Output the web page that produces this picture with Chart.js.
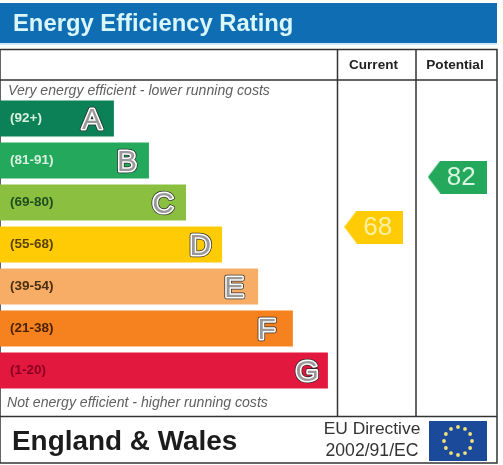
<!DOCTYPE html>
<html>
<head>
<meta charset="utf-8">
<title>Energy Efficiency Rating</title>
<script src="https://cdn.jsdelivr.net/npm/chart.js@4"></script>
<style>
  html, body { margin: 0; padding: 0; background: #fff; overflow: hidden; }
  canvas { display: block; }
</style>
</head>
<body>
<canvas id="epc" width="503" height="465"></canvas>
<script>
// data
const bandLetters = ['A', 'B', 'C', 'D', 'E', 'F', 'G'];
const bandRanges = ['(92+)', '(81-91)', '(69-80)', '(55-68)', '(39-54)', '(21-38)', '(1-20)'];
const bandLengths = [33.8, 44.2, 55.2, 65.9, 76.6, 86.9, 97.3]; // % of the first column
const bandColors = ['#0c8158', '#23a85c', '#8bbf3f', '#ffcb05', '#f8ad66', '#f5821f', '#e2183f'];
const rangeColors = ['#d8f0e0', '#d8f0e0', '#1d4d20', '#5a4300', '#4a2e10', '#4a2208', '#8a0022'];
const letterInset = [12, 12, 12, 11, 14, 17, 9];
const columnTitles = ['Current', 'Potential'];
const ratings = [68, 82];
const ratingColors = ['#ffcb05', '#23a85c'];
const ratingTextColors = ['#fff0a0', '#d8f5e0'];
const ratingColumns = [110.9, 135.7]; // x scale units

const FONT = '"Liberation Sans", Arial, sans-serif';

// arrow marker, used as the point style of the rating points
function arrowImage(color) {
  const c = document.createElement('canvas');
  c.width = 59;
  c.height = 33;
  const g = c.getContext('2d');
  g.fillStyle = color;
  g.beginPath();
  g.moveTo(0, 16.5);
  g.lineTo(12.5, 0);
  g.lineTo(59, 0);
  g.lineTo(59, 33);
  g.lineTo(12.5, 33);
  g.closePath();
  g.fill();
  return c;
}

function text(ctx, str, x, y, font, color, align) {
  ctx.font = font;
  ctx.fillStyle = color;
  ctx.textAlign = align || 'left';
  ctx.textBaseline = 'middle';
  ctx.fillText(str, x, y);
}

const framePlugin = {
  id: 'frame',
  beforeDraw(chart) {
    const ctx = chart.ctx;
    ctx.save();
    ctx.fillStyle = '#fff';
    ctx.fillRect(0, 0, 503, 465);

    // title band
    ctx.fillStyle = '#0f6db3';
    ctx.fillRect(0, 3, 497, 40);
    ctx.fillStyle = '#cde9f5';
    ctx.fillRect(0, 43, 497, 2);
    text(ctx, 'Energy Efficiency Rating', 13, 24.5, 'bold 23.8px ' + FONT, '#d9f6fb');

    // table lines
    ctx.strokeStyle = '#333';
    ctx.lineWidth = 1.5;
    ctx.beginPath();
    ctx.rect(0, 49.5, 497, 413.5);
    ctx.moveTo(0, 80); ctx.lineTo(497, 80);
    ctx.moveTo(0, 416.5); ctx.lineTo(497, 416.5);
    ctx.moveTo(337.5, 49.5); ctx.lineTo(337.5, 416.5);
    ctx.moveTo(416, 49.5); ctx.lineTo(416, 416.5);
    ctx.stroke();

    // column heads and notes
    text(ctx, columnTitles[0], 373.5, 65, 'bold 13.5px ' + FONT, '#222', 'center');
    text(ctx, columnTitles[1], 455, 65, 'bold 13.6px ' + FONT, '#222', 'center');
    text(ctx, 'Very energy efficient - lower running costs', 8, 91, 'italic 14.1px ' + FONT, '#5f5f5f');
    text(ctx, 'Not energy efficient - higher running costs', 7, 403, 'italic 14.1px ' + FONT, '#5f5f5f');

    // footer
    text(ctx, 'England & Wales', 12, 442, 'bold 27.9px ' + FONT, '#1c1c1c');
    text(ctx, 'EU Directive', 372, 429, '17.4px ' + FONT, '#333', 'center');
    text(ctx, '2002/91/EC', 372, 451, '17.6px ' + FONT, '#333', 'center');

    // EU flag
    ctx.fillStyle = '#1b4a9b';
    ctx.fillRect(429, 421, 58, 40);
    ctx.fillStyle = '#f4e27a';
    for (let i = 0; i < 12; i++) {
      const a = i * Math.PI / 6;
      ctx.beginPath();
      ctx.arc(458 + Math.cos(a) * 14, 441 + Math.sin(a) * 14, 1.9, 0, Math.PI * 2);
      ctx.fill();
    }
    ctx.restore();
  },
  afterDatasetsDraw(chart) {
    const ctx = chart.ctx;
    ctx.save();

    // band letters sit at the end of each bar, hollow with a dark edge
    const bars = chart.getDatasetMeta(0).data;
    bars.forEach((bar, i) => {
      const lx = bar.x - letterInset[i];
      const ly = bar.y + 2;
      ctx.font = '30px ' + FONT;
      ctx.textAlign = 'right';
      ctx.textBaseline = 'middle';
      ctx.lineJoin = 'round';
      ctx.strokeStyle = '#2a2a2a';
      ctx.lineWidth = 4.6;
      ctx.strokeText(bandLetters[i], lx, ly);
      ctx.strokeStyle = '#fff';
      ctx.lineWidth = 3.1;
      ctx.strokeText(bandLetters[i], lx, ly);
      ctx.fillStyle = '#999';
      ctx.fillText(bandLetters[i], lx, ly);
    });

    // rating numbers on the arrows
    ratings.forEach((r, i) => {
      const pt = chart.getDatasetMeta(1).data[i];
      text(ctx, String(r), pt.x + 4, pt.y + 0.5, '26px ' + FONT, ratingTextColors[i], 'center');
    });
    ctx.restore();
  }
};

new Chart(document.getElementById('epc'), {
  data: {
    labels: bandLetters,
    datasets: [
      {
        type: 'bar',
        indexAxis: 'y',
        data: bandLengths,
        backgroundColor: bandColors,
        borderWidth: 0,
        categoryPercentage: 1,
        barPercentage: 36 / 42,
        xAxisID: 'x',
        yAxisID: 'y',
        order: 2
      },
      {
        type: 'scatter',
        data: ratings.map((r, i) => ({ x: ratingColumns[i], y: r })),
        pointStyle: ratingColors.map(arrowImage),
        xAxisID: 'x',
        yAxisID: 'rating',
        order: 1
      }
    ]
  },
  options: {
    responsive: false,
    animation: false,
    devicePixelRatio: 1,
    layout: { autoPadding: false, padding: { top: 97.5, bottom: 73.5, left: 0, right: 0 } },
    plugins: { legend: { display: false }, tooltip: { enabled: false }, title: { display: false } },
    scales: {
      x: { type: 'linear', min: 0, max: 149.26, display: false },
      y: {
        type: 'category',
        position: 'left',
        labels: bandLetters,
        offset: true,
        grid: { display: false },
        border: { display: false },
        afterFit(scale) { scale.width = 0; },
        ticks: {
          mirror: true,
          padding: 10,
          z: 1,
          autoSkip: false,
          callback(value, index) { return bandRanges[index]; },
          color: rangeColors,
          font: { family: FONT, size: 13.5, weight: 'bold' }
        }
      },
      rating: { type: 'linear', position: 'right', min: 21.94, max: 104.26, display: false }
    }
  },
  plugins: [framePlugin]
});
</script>
</body>
</html>
